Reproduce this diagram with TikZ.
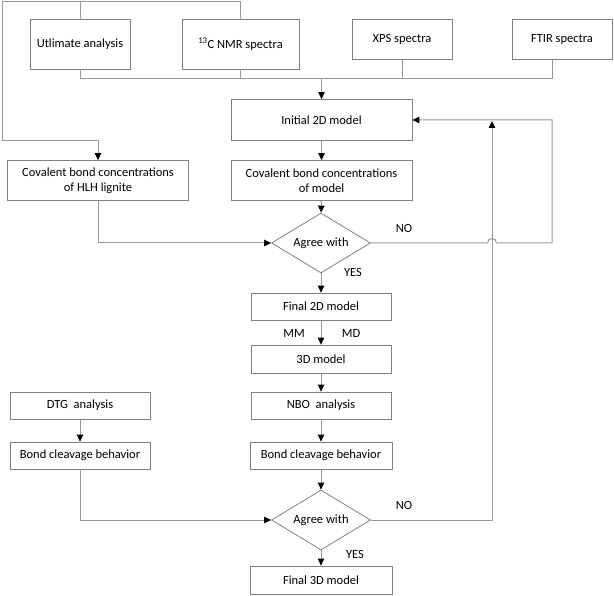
\documentclass[tikz,border=0pt]{standalone}
\usepackage{fontspec}
\setmainfont{Carlito}
\usetikzlibrary{arrows.meta,shapes.geometric,calc}
\begin{document}
\begin{tikzpicture}[x=1pt,y=-1pt,
  box/.style={draw=black!50, line width=0.8pt, rectangle, inner sep=0pt, align=center, font=\fontsize{12.5}{15}\selectfont},
  dia/.style={draw=black!50, line width=0.8pt, diamond, inner sep=0pt, aspect=1.65, minimum width=99pt, minimum height=60pt, font=\fontsize{12.5}{15}\selectfont},
  lbl/.style={font=\fontsize{12.5}{15}\selectfont, inner sep=0pt},
  line/.style={draw=black!40, line width=1pt},
  arr/.style={line, -{Triangle[length=7pt,width=6.5pt,color=black]}}]
\useasboundingbox (0,0) rectangle (614,596);
% top row
\node[box, minimum width=100pt, minimum height=50pt] (ult) at (80,44) {Utlimate analysis};
\node[box, minimum width=117pt, minimum height=50pt] (c13) at (240.5,44) {\textsuperscript{13}C NMR spectra};
\node[box, minimum width=100pt, minimum height=40pt] (xps) at (402,39) {XPS spectra};
\node[box, minimum width=100pt, minimum height=40pt] (ftir) at (562,39) {FTIR spectra};
% main column
\node[box, minimum width=181pt, minimum height=41pt] (init) at (321.5,120) {Initial 2D model};
\node[box, minimum width=181pt, minimum height=40pt] (cov) at (321.5,180.5) {Covalent bond concentrations\\of model};
\node[box, minimum width=181pt, minimum height=40pt] (hlh) at (98,180.5) {Covalent bond concentrations\\of HLH lignite};
\node[dia] (ag1) at (321,243) {Agree with};
\node[box, minimum width=140pt, minimum height=27pt] (f2d) at (321,306.5) {Final 2D model};
\node[box, minimum width=140pt, minimum height=28pt] (m3d) at (321,359) {3D model};
\node[box, minimum width=140pt, minimum height=27pt] (nbo) at (321,405.5) {NBO\ \ analysis};
\node[box, minimum width=142pt, minimum height=27pt] (bcr) at (321,455.5) {Bond cleavage behavior};
\node[dia] (ag2) at (321,520) {Agree with};
\node[box, minimum width=142pt, minimum height=28pt] (f3d) at (321,580) {Final 3D model};
\node[box, minimum width=140pt, minimum height=27pt] (dtg) at (80,405.5) {DTG\ \ analysis};
\node[box, minimum width=140pt, minimum height=27pt] (bcl) at (80,455.5) {Bond cleavage behavior};
% labels
\node[lbl] (no1) at (404,228) {NO};
\node[lbl] (yes1) at (353,272) {YES};
\node[lbl] (mm) at (294,333) {MM};
\node[lbl] (md) at (351,333) {MD};
\node[lbl] (no2) at (404,505) {NO};
\node[lbl] (yes2) at (355,554) {YES};
% coordinates
\coordinate (tl) at (2,2);
\coordinate (lk) at (2,141);
\coordinate (bus) at (0,79);
\coordinate (fs) at (552,59);
\coordinate (fb) at (552,79);
\coordinate (j1) at (487.5,243);
\coordinate (j2) at (496.5,243);
\coordinate (r1) at (552,243);
\coordinate (up) at (492,121);
% connectors top
\draw[line] (c13.north) -- (c13.north |- tl) -- (tl);
\draw[line] (ult.north) -- (ult.north |- tl);
\draw[arr] (tl) -- (lk) -| (hlh.north);
\draw[line] (ult.south) -- (ult.south |- bus) -- (fb) -- (fs);
\draw[line] (c13.south) -- (c13.south |- bus);
\draw[line] (xps.south) -- (xps.south |- bus);
\draw[arr] (init.north |- bus) -- (init.north);
% main column
\draw[arr] (init.south) -- (cov.north);
\draw[arr] (cov.south) -- (ag1.north);
\draw[arr] (ag1.south) -- (f2d.north);
\draw[arr] (f2d.south) -- (m3d.north);
\draw[arr] (m3d.south) -- (nbo.north);
\draw[arr] (nbo.south) -- (bcr.north);
\draw[arr] (bcr.south) -- (ag2.north);
\draw[arr] (ag2.south) -- (f3d.north);
\draw[arr] (dtg.south) -- (bcl.north);
\draw[arr] (hlh.south) |- (ag1.west);
\draw[arr] (bcl.south) |- (ag2.west);
% feedback loops
\draw[arr] (ag1.east) -- (j1) .. controls (487.5,237) and (496.5,237) .. (j2) -- (r1) |- (init.east);
\draw[arr] (ag2.east) -| (up);
\end{tikzpicture}
\end{document}
